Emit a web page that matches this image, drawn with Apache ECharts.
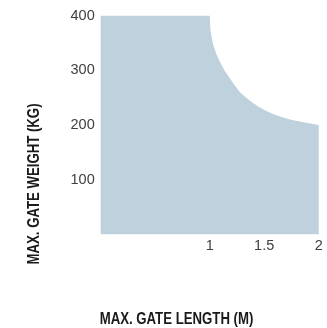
<!DOCTYPE html>
<html><head><meta charset="utf-8">
<script src="https://cdn.jsdelivr.net/npm/echarts@6/dist/echarts.min.js"></script>
<style>html,body{margin:0;padding:0;background:#fff}#c{width:327px;height:328px}</style>
</head><body><div id="c"></div>
<script>
const gateLength = [0, 1.0, 1.006, 1.017, 1.033, 1.06, 1.094, 1.138, 1.186, 1.23, 1.278, 1.33, 1.385, 1.445, 1.507, 1.58, 1.661, 1.735, 1.813, 1.9, 2.0];
const gateWeight = [400, 400, 376, 361, 346, 330, 315, 299, 285, 272, 260, 250.5, 242, 234, 227, 220, 214.6, 210, 206.8, 203.5, 200];
const xTickLabels = ['1', '1.5', '2'];
const yTickLabels = ['100', '200', '300', '400'];
const xTitle = 'MAX. GATE LENGTH (M)';
const yTitle = 'MAX. GATE WEIGHT (KG)';

const chart = echarts.init(document.getElementById('c'), null, {renderer: 'canvas'});
const titleFont = '"Liberation Sans", Arial, sans-serif';
const labelFont = '"Liberation Sans", Arial, sans-serif';
chart.setOption({
  animation: false,
  grid: {left: 100.7, right: 8.3, top: 15.5, bottom: 93.5},
  xAxis: {
    type: 'value', min: 0, max: 2, interval: 0.5,
    axisLine: {show: false}, axisTick: {show: false}, splitLine: {show: false},
    axisLabel: {
      margin: 4, fontSize: 14.5, color: '#404040', fontFamily: labelFont,
      formatter: v => { const s = String(v); return xTickLabels.includes(s) ? s : ''; }
    }
  },
  yAxis: {
    type: 'value', min: 0, max: 400, interval: 100,
    axisLine: {show: false}, axisTick: {show: false}, splitLine: {show: false},
    axisLabel: {
      margin: 6, fontSize: 14.5, color: '#404040', fontFamily: labelFont,
      formatter: v => { const s = String(v); return yTickLabels.includes(s) ? s : ''; }
    }
  },
  series: [{
    type: 'line',
    data: gateLength.map((x, i) => [x, gateWeight[i]]),
    symbol: 'none',
    lineStyle: {width: 0},
    areaStyle: {color: '#bfd1dd', opacity: 1},
    itemStyle: {color: '#bfd1dd'}
  }],
  graphic: [
    {type: 'text', x: 176.5, y: 320, scaleX: 0.825, style: {text: xTitle, fontSize: 16, fontWeight: 'bold', fontFamily: titleFont, fill: '#1a1a1a', align: 'center', verticalAlign: 'middle'}},
    {type: 'text', x: 34.5, y: 184, rotation: Math.PI / 2, scaleX: 0.825, style: {text: yTitle, fontSize: 16, fontWeight: 'bold', fontFamily: titleFont, fill: '#1a1a1a', align: 'center', verticalAlign: 'middle'}}
  ]
});
</script></body></html>
